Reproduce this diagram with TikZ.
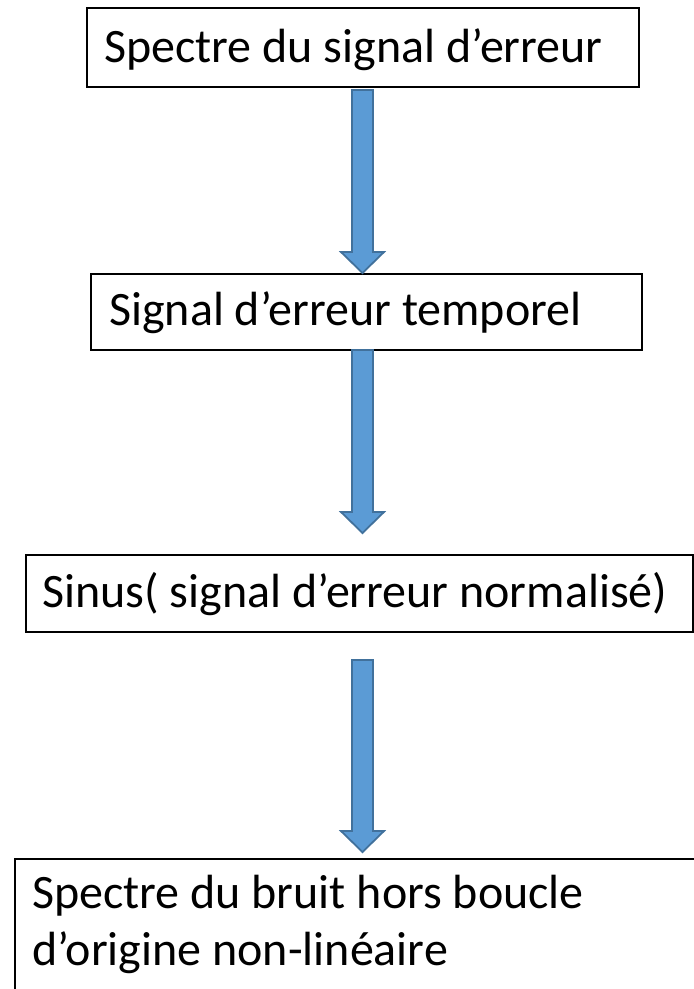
\documentclass[tikz,border=0pt]{standalone}
\usepackage{fontspec}
\setmainfont{Carlito}
\usetikzlibrary{calc}

\definecolor{arrowfill}{HTML}{5B9BD5}
\definecolor{arrowedge}{HTML}{41719C}

\tikzset{
  box/.style={draw=black, line width=1.6pt, rectangle, inner sep=0pt, anchor=north west},
  txt/.style={inner sep=0pt, anchor=base west, font=\fontsize{48}{57}\selectfont},
  blockarrow/.style={fill=arrowfill, draw=arrowedge, line width=1.8pt, line join=miter}
}

% block arrow pointing down from coordinate #1 to coordinate #2
\newcommand\downblockarrow[2]{%
  \path[blockarrow] let \p1=(#1), \p2=(#2) in
    (\x1-10.5pt,\y1) -- (\x1+10.5pt,\y1) -- (\x1+10.5pt,\y2+21pt) --
    (\x1+21.5pt,\y2+21pt) -- (\x1,\y2) -- (\x1-21.5pt,\y2+21pt) --
    (\x1-10.5pt,\y2+21pt) -- cycle;}

\begin{document}
\begin{tikzpicture}[x=1pt,y=-1pt]
  \useasboundingbox (0,0) rectangle (694,989);
  \clip (0,0) rectangle (694,989);

  % boxes
  \node[box, minimum width=552pt, minimum height=79pt] (b1) at (86,7) {};
  \node[box, minimum width=551pt, minimum height=76pt] (b2) at (90,273) {};
  \node[box, minimum width=667pt, minimum height=77pt] (b3) at (25,554) {};
  \node[box, minimum width=700pt, minimum height=160pt] (b4) at (14,858) {};

  % texts (the two-line text is anchored at the baseline of its last line)
  \node[txt] (t1) at (104,62) {Spectre du signal d’erreur};
  \node[txt] (t2) at (109,325) {Signal d’erreur temporel};
  \node[txt] (t3) at (42,607) {Sinus( signal d’erreur normalisé)};
  \node[txt, align=left] (t4) at (32,965) {Spectre du bruit hors boucle\\d’origine non-linéaire};

  % arrow end points
  \coordinate (a1s) at (362.5,90);  \coordinate (a1e) at (362.5,273);
  \coordinate (a2s) at (362.5,350); \coordinate (a2e) at (362.5,533);
  \coordinate (a3s) at (362.5,660); \coordinate (a3e) at (362.5,852);

  \downblockarrow{a1s}{a1e}
  \downblockarrow{a2s}{a2e}
  \downblockarrow{a3s}{a3e}
\end{tikzpicture}
\end{document}
